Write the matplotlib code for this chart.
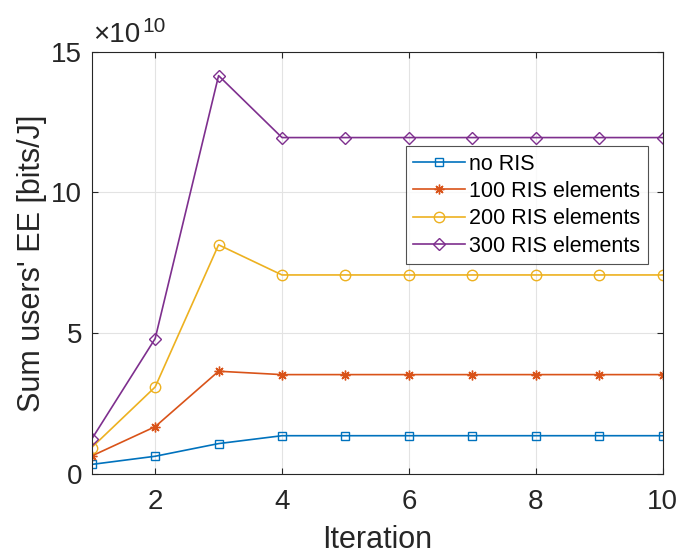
import matplotlib
matplotlib.use("Agg")
import matplotlib.pyplot as plt

iterations = [1, 2, 3, 4, 5, 6, 7, 8, 9, 10]
# values in units of 1e10 bits/J
no_ris = [0.34, 0.63, 1.08, 1.36, 1.36, 1.36, 1.36, 1.36, 1.36, 1.36]
ris_100 = [0.64, 1.68, 3.65, 3.53, 3.53, 3.53, 3.53, 3.53, 3.53, 3.53]
ris_200 = [0.94, 3.09, 8.14, 7.07, 7.07, 7.07, 7.07, 7.07, 7.07, 7.07]
ris_300 = [1.24, 4.81, 14.15, 11.95, 11.95, 11.95, 11.95, 11.95, 11.95, 11.95]
labels = ["no RIS", "100 RIS elements", "200 RIS elements", "300 RIS elements"]

plt.rcParams['font.family'] = ['Liberation Sans', 'DejaVu Sans']
dark = '#262626'

fig = plt.figure(figsize=(6.8, 5.56), dpi=100)
ax = fig.add_axes([0.1349, 0.1475, 0.8394, 0.7595])

series = [
    (no_ris, '#0072BD', 's', 5.5),
    (ris_100, '#D95319', (8, 2, 0), 7),
    (ris_200, '#EDB120', 'o', 7.5),
    (ris_300, '#7E2F8E', 'D', 6.5),
]
for (vals, color, marker, ms), lab in zip(series, labels):
    ax.plot(iterations, vals, color=color, marker=marker, markersize=ms,
            markerfacecolor='none', markeredgewidth=1.0, linewidth=1.2, label=lab)

ax.set_xlim(1, 10)
ax.set_ylim(0, 15)
ax.set_xticks([2, 4, 6, 8, 10])
ax.set_yticks([0, 5, 10, 15])
ax.grid(True, color='#e3e3e3', linewidth=0.8)
ax.tick_params(direction='in', labelsize=20, colors=dark, length=4,
               top=True, right=True)
ax.tick_params(axis='x', pad=11)
ax.tick_params(axis='y', pad=7)
for sp in ax.spines.values():
    sp.set_color(dark)
    sp.set_linewidth(0.8)

ax.set_xlabel("Iteration", fontsize=22, color=dark, labelpad=7)
ax.set_ylabel("Sum users' EE [bits/J]", fontsize=22, color=dark, labelpad=3)

# MATLAB-style exponent label above the y axis
fig.text(0.1368, 0.9245, "\u00d710", fontsize=20, color=dark,
         ha='left', va='baseline')
fig.text(0.2088, 0.943, "10", fontsize=15, color=dark,
         ha='left', va='baseline')

leg = ax.legend(loc='upper right', bbox_to_anchor=(0.9746, 0.7767), fontsize=15.5,
                frameon=True, fancybox=False, edgecolor=dark,
                borderpad=0.35, handlelength=2.4, handletextpad=0.2,
                labelspacing=0.3, borderaxespad=0)
leg.get_frame().set_linewidth(0.8)

fig.savefig("out.png", dpi=100)
